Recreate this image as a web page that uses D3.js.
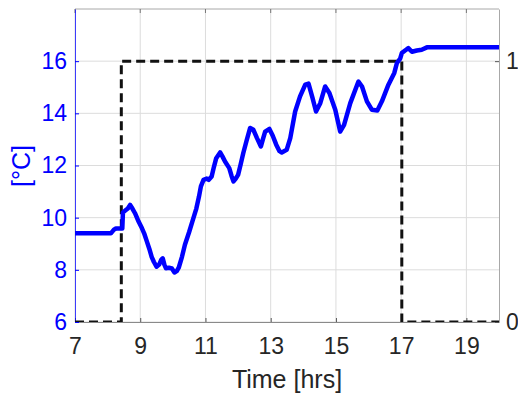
<!DOCTYPE html>
<html>
<head>
<meta charset="utf-8">
<script src="https://cdn.jsdelivr.net/npm/d3@7"></script>
<style>
  html, body { margin: 0; padding: 0; background: #fff; }
  svg { display: block; font-family: "Liberation Sans", Arial, Helvetica, sans-serif; }
</style>
</head>
<body>
<svg id="chart" width="518" height="394"></svg>
<script>
// Room temperature over the day (hours, °C)
const timeHrs = [7.00, 8.10, 8.20, 8.25, 8.45, 8.47, 8.55, 8.62, 8.69, 8.76, 8.84, 8.95, 9.05, 9.12, 9.20, 9.28, 9.35, 9.42, 9.50, 9.58,
  9.65, 9.69, 9.74, 9.79, 9.88, 9.97, 10.05, 10.12, 10.18, 10.28, 10.37, 10.50, 10.63, 10.72, 10.80, 10.86, 10.94, 11.04, 11.10, 11.19,
  11.26, 11.33, 11.45, 11.52, 11.60, 11.73, 11.80, 11.86, 11.93, 12.00, 12.08, 12.16, 12.26, 12.37, 12.47, 12.58, 12.70, 12.76, 12.83, 12.96,
  13.06, 13.17, 13.27, 13.34, 13.49, 13.60, 13.75, 13.90, 14.06, 14.16, 14.28, 14.39, 14.52, 14.67, 14.80, 14.98, 15.13, 15.25, 15.44, 15.69,
  15.80, 15.95, 16.10, 16.27, 16.41, 16.61, 16.79, 16.87, 16.97, 17.02, 17.12, 17.22, 17.33, 17.48, 17.63, 17.79, 20.00];
const tempC = [9.40, 9.40, 9.55, 9.58, 9.58, 10.20, 10.28, 10.35, 10.49, 10.35, 10.17, 9.85, 9.60, 9.40, 9.10, 8.80, 8.50, 8.30, 8.12, 8.20,
  8.40, 8.44, 8.20, 8.06, 8.08, 8.05, 7.90, 7.95, 8.08, 8.50, 8.96, 9.45, 9.98, 10.35, 10.80, 11.20, 11.45, 11.50, 11.45, 11.58,
  11.95, 12.28, 12.50, 12.35, 12.15, 11.90, 11.60, 11.39, 11.50, 11.64, 12.05, 12.48, 12.95, 13.44, 13.37, 13.05, 12.73, 13.00, 13.30, 13.40,
  13.15, 12.80, 12.55, 12.50, 12.60, 13.05, 14.07, 14.65, 15.10, 15.14, 14.60, 14.07, 14.39, 15.03, 14.78, 14.14, 13.30, 13.56, 14.39, 15.22,
  15.03, 14.46, 14.14, 14.11, 14.46, 15.10, 15.55, 15.93, 16.10, 16.31, 16.41, 16.50, 16.36, 16.41, 16.44, 16.53, 16.53];

// On/off state (right axis)
const stateHrs = [7, 8.42, 8.42, 17.02, 17.02, 20];
const stateVal = [0, 0, 1, 1, 0, 0];

// Tick values and labels
const xTicks = [7, 9, 11, 13, 15, 17, 19];
const yTicks = [6, 8, 10, 12, 14, 16];
const yRightTicks = [0, 1];
const xLabel = "Time [hrs]";
const yLabel = "[°C]";

const svg = d3.select("#chart");
const plot = { left: 75, right: 499, top: 9, bottom: 322 };

const x = d3.scaleLinear().domain([7, 20]).range([plot.left, plot.right]);
const y = d3.scaleLinear().domain([6, 18]).range([plot.bottom, plot.top]);
const yR = d3.scaleLinear().domain([0, 1.2]).range([plot.bottom, plot.top]);

const tickFont = 23;
const blue = "#0000ff";
const dark = "#262626";

// clip region = axes box
svg.append("defs").append("clipPath").attr("id", "plotArea")
  .append("rect")
  .attr("x", plot.left).attr("y", plot.top)
  .attr("width", plot.right - plot.left).attr("height", plot.bottom - plot.top);

// grid
const grid = svg.append("g");
grid.selectAll("line.gx").data(xTicks).join("line")
  .attr("x1", d => x(d)).attr("x2", d => x(d))
  .attr("y1", plot.top).attr("y2", plot.bottom)
  .attr("stroke", "#dcdcdc").attr("stroke-width", 1);
grid.selectAll("line.gy").data(yTicks).join("line")
  .attr("x1", plot.left).attr("x2", plot.right)
  .attr("y1", d => y(d)).attr("y2", d => y(d))
  .attr("stroke", "#dcdcdc").attr("stroke-width", 1);

// box: top edge
svg.append("line").attr("x1", plot.left).attr("x2", plot.right).attr("y1", plot.top).attr("y2", plot.top)
  .attr("stroke", "#a8a8a8").attr("stroke-width", 1);

// bottom axis
const xAxis = svg.append("g").attr("transform", `translate(0,${plot.bottom})`)
  .call(d3.axisBottom(x).tickValues(xTicks).tickSizeInner(-4).tickSizeOuter(0).tickPadding(10).tickFormat(d3.format("d")));
xAxis.select(".domain").attr("stroke", "#8a8a8a");
xAxis.selectAll(".tick line").attr("stroke", "#555");
xAxis.selectAll(".tick text").attr("font-size", tickFont).attr("fill", dark)
  .attr("font-family", "Liberation Sans, Arial, sans-serif").attr("dy", "0.95em");

// top ticks
svg.append("g").selectAll("line").data(xTicks).join("line")
  .attr("x1", d => x(d)).attr("x2", d => x(d)).attr("y1", plot.top).attr("y2", plot.top + 4)
  .attr("stroke", "#777");

// left axis
const yAxis = svg.append("g").attr("transform", `translate(${plot.left},0)`)
  .call(d3.axisLeft(y).tickValues(yTicks).tickSizeInner(-4).tickSizeOuter(0).tickPadding(8).tickFormat(d3.format("d")));
yAxis.select(".domain").attr("stroke", blue).attr("stroke-opacity", 0.75);
yAxis.selectAll(".tick line").attr("stroke", blue);
yAxis.selectAll(".tick text").attr("font-size", tickFont).attr("fill", blue)
  .attr("font-family", "Liberation Sans, Arial, sans-serif");

// right axis
const yAxisR = svg.append("g").attr("transform", `translate(${plot.right},0)`)
  .call(d3.axisRight(yR).tickValues(yRightTicks).tickSizeInner(-4).tickSizeOuter(0).tickPadding(7).tickFormat(d3.format("d")));
yAxisR.select(".domain").attr("stroke", "#a8a8a8");
yAxisR.selectAll(".tick line").attr("stroke", "#555");
yAxisR.selectAll(".tick text").attr("font-size", tickFont).attr("fill", dark)
  .attr("font-family", "Liberation Sans, Arial, sans-serif");

// axis titles
svg.append("text").attr("x", (plot.left + plot.right) / 2).attr("y", 388)
  .attr("text-anchor", "middle").attr("font-size", 25).attr("fill", dark).text(xLabel);
svg.append("text").attr("transform", "translate(30,166) rotate(-90)")
  .attr("text-anchor", "middle").attr("font-size", 25).attr("fill", blue).text(yLabel);

// on/off state, dashed (clipped to the axes box)
const stateLine = d3.line().x(d => x(d[0])).y(d => yR(d[1]));
svg.append("path")
  .datum(stateHrs.map((t, i) => [t, stateVal[i]]))
  .attr("d", stateLine)
  .attr("clip-path", "url(#plotArea)")
  .attr("fill", "none").attr("stroke", "#111").attr("stroke-width", 3)
  .attr("stroke-dasharray", "9,5");

// temperature
const tempLine = d3.line().x(d => x(d[0])).y(d => y(d[1]));
svg.append("path")
  .datum(timeHrs.map((t, i) => [t, tempC[i]]))
  .attr("d", tempLine)
  .attr("fill", "none").attr("stroke", blue).attr("stroke-width", 4.5)
  .attr("stroke-linejoin", "round").attr("stroke-linecap", "butt");
</script>
</body>
</html>
